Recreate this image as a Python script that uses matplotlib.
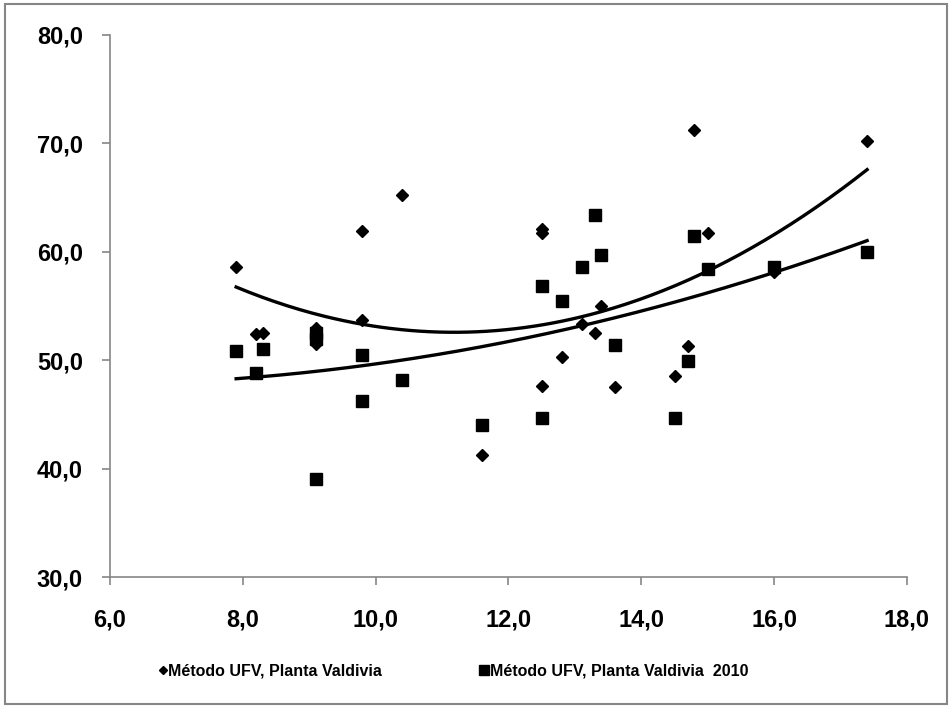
import numpy as np
import matplotlib
matplotlib.use('Agg')
import matplotlib.pyplot as plt
from matplotlib.patches import Rectangle

# Series 1: Método UFV, Planta Valdivia (diamonds)
x_ufv = [7.9, 8.2, 8.3, 9.1, 9.1, 9.1, 9.8, 9.8, 10.4, 11.6, 12.5, 12.5,
         12.5, 12.8, 13.1, 13.3, 13.4, 13.6, 14.5, 14.7, 14.8, 15.0, 16.0, 17.4]
y_ufv = [58.6, 52.4, 52.5, 53.0, 52.6, 51.5, 61.9, 53.7, 65.2, 41.3, 62.1, 61.7,
         47.6, 50.3, 53.3, 52.5, 55.0, 47.5, 48.5, 51.3, 71.2, 61.7, 58.1, 70.2]

# Series 2: Método UFV, Planta Valdivia 2010 (squares)
x_2010 = [7.9, 8.2, 8.3, 9.1, 9.1, 9.1, 9.8, 9.8, 10.4, 11.6, 12.5, 12.5,
          12.8, 13.1, 13.3, 13.4, 13.6, 14.5, 14.7, 14.8, 15.0, 16.0, 17.4]
y_2010 = [50.85, 48.8, 51.0, 52.5, 52.0, 39.0, 50.5, 46.2, 48.2, 44.0, 56.8, 44.7,
          55.5, 58.6, 63.4, 59.7, 51.4, 44.7, 49.9, 61.5, 58.4, 58.6, 60.0]

x_ticks = [6, 8, 10, 12, 14, 16, 18]
x_ticklabels = ['6,0', '8,0', '10,0', '12,0', '14,0', '16,0', '18,0']
y_ticks = [30, 40, 50, 60, 70, 80]
y_ticklabels = ['30,0', '40,0', '50,0', '60,0', '70,0', '80,0']

label_ufv = 'Método UFV, Planta Valdivia'
label_2010 = 'Método UFV, Planta Valdivia  2010'

plt.rcParams['font.family'] = ['Liberation Sans', 'DejaVu Sans']

fig = plt.figure(figsize=(9.52, 7.08), dpi=100)
ax = fig.add_axes([0.1155, 0.185, 0.8372, 0.7656])

grey = '#868686'

ax.plot(x_ufv, y_ufv, linestyle='none', marker='D', markersize=6.5,
        color='black', label=label_ufv)
ax.plot(x_2010, y_2010, linestyle='none', marker='s', markersize=8.5,
        color='black', label=label_2010)

# polynomial (order 2) trendlines, as in the spreadsheet
for xs, ys in [(x_ufv, y_ufv), (x_2010, y_2010)]:
    coef = np.polyfit(xs, ys, 2)
    xx = np.linspace(min(xs), max(xs), 200)
    ax.plot(xx, np.polyval(coef, xx), color='black', linewidth=2.4)

ax.set_xlim(6, 18)
ax.set_ylim(30, 80)
ax.set_xticks(x_ticks)
ax.set_xticklabels(x_ticklabels)
ax.set_yticks(y_ticks)
ax.set_yticklabels(y_ticklabels)

for s in ['top', 'right']:
    ax.spines[s].set_visible(False)
for s in ['left', 'bottom']:
    ax.spines[s].set_color(grey)
    ax.spines[s].set_linewidth(1.2)

ax.tick_params(axis='both', direction='out', length=6, width=1.2, color=grey,
               labelsize=17)
ax.tick_params(axis='y', pad=13.5)
ax.tick_params(axis='x', pad=17)
for lbl in ax.get_xticklabels() + ax.get_yticklabels():
    lbl.set_fontweight('bold')

leg = fig.legend(loc='center left', bbox_to_anchor=(0.1525, 0.052), ncol=2,
                 frameon=False, prop={'weight': 'bold', 'size': 11.5},
                 handlelength=0.4, handletextpad=0.15, columnspacing=6.2)
leg.legend_handles[0].set_markersize(3.6)
leg.legend_handles[1].set_markersize(7.0)

fig.patches.append(Rectangle((0.005, 0.006), 0.99, 0.988, transform=fig.transFigure,
                             fill=False, edgecolor=grey, linewidth=1.5))

fig.savefig('out.png', dpi=100)
